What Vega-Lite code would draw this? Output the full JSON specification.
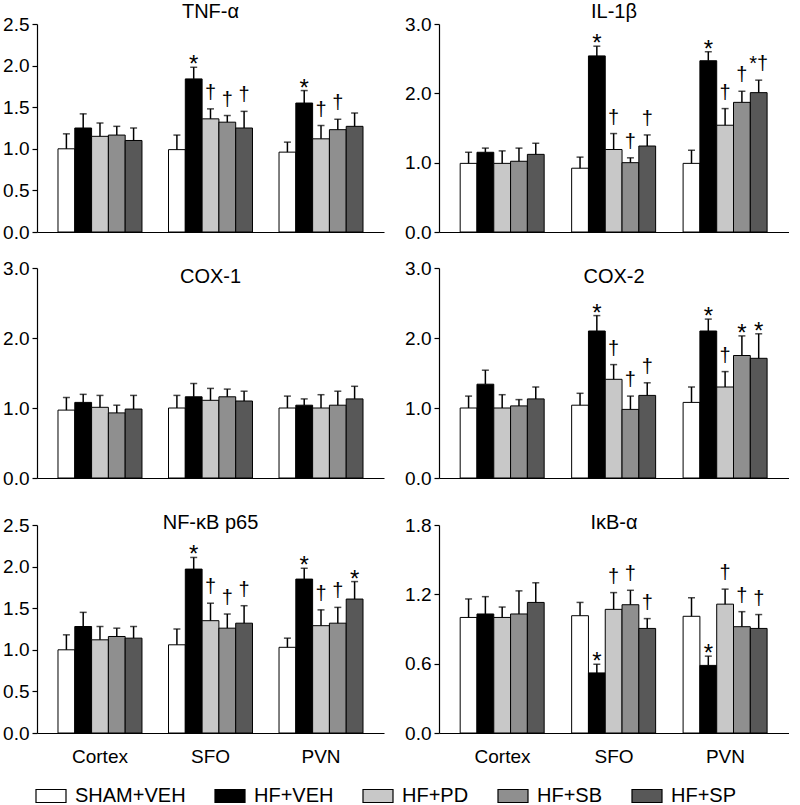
{
  "$schema": "https://vega.github.io/schema/vega-lite/v6.json",
  "background": "white",
  "padding": {"left": 2, "top": 2, "right": 0, "bottom": 0},
  "spacing": 17,
  "datasets": {
    "d": [
      {"p": "TNF", "r": "Cortex", "g": "SHAM+VEH", "m": 1.00, "u": 1.18, "s": ""},
      {"p": "TNF", "r": "Cortex", "g": "HF+VEH", "m": 1.25, "u": 1.42, "s": ""},
      {"p": "TNF", "r": "Cortex", "g": "HF+PD", "m": 1.15, "u": 1.31, "s": ""},
      {"p": "TNF", "r": "Cortex", "g": "HF+SB", "m": 1.165, "u": 1.27, "s": ""},
      {"p": "TNF", "r": "Cortex", "g": "HF+SP", "m": 1.10, "u": 1.25, "s": ""},
      {"p": "TNF", "r": "SFO", "g": "SHAM+VEH", "m": 0.99, "u": 1.165, "s": ""},
      {"p": "TNF", "r": "SFO", "g": "HF+VEH", "m": 1.84, "u": 1.98, "s": "*"},
      {"p": "TNF", "r": "SFO", "g": "HF+PD", "m": 1.36, "u": 1.48, "s": "†"},
      {"p": "TNF", "r": "SFO", "g": "HF+SB", "m": 1.32, "u": 1.40, "s": "†"},
      {"p": "TNF", "r": "SFO", "g": "HF+SP", "m": 1.25, "u": 1.45, "s": "†"},
      {"p": "TNF", "r": "PVN", "g": "SHAM+VEH", "m": 0.96, "u": 1.08, "s": ""},
      {"p": "TNF", "r": "PVN", "g": "HF+VEH", "m": 1.55, "u": 1.70, "s": "*"},
      {"p": "TNF", "r": "PVN", "g": "HF+PD", "m": 1.12, "u": 1.28, "s": "†"},
      {"p": "TNF", "r": "PVN", "g": "HF+SB", "m": 1.23, "u": 1.355, "s": "†"},
      {"p": "TNF", "r": "PVN", "g": "HF+SP", "m": 1.27, "u": 1.43, "s": ""},

      {"p": "IL1B", "r": "Cortex", "g": "SHAM+VEH", "m": 0.99, "u": 1.15, "s": ""},
      {"p": "IL1B", "r": "Cortex", "g": "HF+VEH", "m": 1.15, "u": 1.21, "s": ""},
      {"p": "IL1B", "r": "Cortex", "g": "HF+PD", "m": 0.99, "u": 1.17, "s": ""},
      {"p": "IL1B", "r": "Cortex", "g": "HF+SB", "m": 1.02, "u": 1.21, "s": ""},
      {"p": "IL1B", "r": "Cortex", "g": "HF+SP", "m": 1.12, "u": 1.28, "s": ""},
      {"p": "IL1B", "r": "SFO", "g": "SHAM+VEH", "m": 0.92, "u": 1.08, "s": ""},
      {"p": "IL1B", "r": "SFO", "g": "HF+VEH", "m": 2.54, "u": 2.68, "s": "*"},
      {"p": "IL1B", "r": "SFO", "g": "HF+PD", "m": 1.19, "u": 1.42, "s": "†"},
      {"p": "IL1B", "r": "SFO", "g": "HF+SB", "m": 1.00, "u": 1.07, "s": "†"},
      {"p": "IL1B", "r": "SFO", "g": "HF+SP", "m": 1.24, "u": 1.40, "s": "†"},
      {"p": "IL1B", "r": "PVN", "g": "SHAM+VEH", "m": 0.99, "u": 1.18, "s": ""},
      {"p": "IL1B", "r": "PVN", "g": "HF+VEH", "m": 2.47, "u": 2.60, "s": "*"},
      {"p": "IL1B", "r": "PVN", "g": "HF+PD", "m": 1.54, "u": 1.78, "s": "†"},
      {"p": "IL1B", "r": "PVN", "g": "HF+SB", "m": 1.87, "u": 2.03, "s": "†"},
      {"p": "IL1B", "r": "PVN", "g": "HF+SP", "m": 2.01, "u": 2.19, "s": "*†"},

      {"p": "COX1", "r": "Cortex", "g": "SHAM+VEH", "m": 0.97, "u": 1.15, "s": ""},
      {"p": "COX1", "r": "Cortex", "g": "HF+VEH", "m": 1.08, "u": 1.195, "s": ""},
      {"p": "COX1", "r": "Cortex", "g": "HF+PD", "m": 1.01, "u": 1.18, "s": ""},
      {"p": "COX1", "r": "Cortex", "g": "HF+SB", "m": 0.93, "u": 1.04, "s": ""},
      {"p": "COX1", "r": "Cortex", "g": "HF+SP", "m": 0.985, "u": 1.18, "s": ""},
      {"p": "COX1", "r": "SFO", "g": "SHAM+VEH", "m": 1.00, "u": 1.18, "s": ""},
      {"p": "COX1", "r": "SFO", "g": "HF+VEH", "m": 1.16, "u": 1.35, "s": ""},
      {"p": "COX1", "r": "SFO", "g": "HF+PD", "m": 1.11, "u": 1.28, "s": ""},
      {"p": "COX1", "r": "SFO", "g": "HF+SB", "m": 1.16, "u": 1.27, "s": ""},
      {"p": "COX1", "r": "SFO", "g": "HF+SP", "m": 1.10, "u": 1.24, "s": ""},
      {"p": "COX1", "r": "PVN", "g": "SHAM+VEH", "m": 1.00, "u": 1.17, "s": ""},
      {"p": "COX1", "r": "PVN", "g": "HF+VEH", "m": 1.04, "u": 1.13, "s": ""},
      {"p": "COX1", "r": "PVN", "g": "HF+PD", "m": 1.00, "u": 1.19, "s": ""},
      {"p": "COX1", "r": "PVN", "g": "HF+SB", "m": 1.04, "u": 1.24, "s": ""},
      {"p": "COX1", "r": "PVN", "g": "HF+SP", "m": 1.13, "u": 1.31, "s": ""},

      {"p": "COX2", "r": "Cortex", "g": "SHAM+VEH", "m": 1.00, "u": 1.17, "s": ""},
      {"p": "COX2", "r": "Cortex", "g": "HF+VEH", "m": 1.34, "u": 1.54, "s": ""},
      {"p": "COX2", "r": "Cortex", "g": "HF+PD", "m": 1.00, "u": 1.19, "s": ""},
      {"p": "COX2", "r": "Cortex", "g": "HF+SB", "m": 1.03, "u": 1.12, "s": ""},
      {"p": "COX2", "r": "Cortex", "g": "HF+SP", "m": 1.13, "u": 1.30, "s": ""},
      {"p": "COX2", "r": "SFO", "g": "SHAM+VEH", "m": 1.04, "u": 1.21, "s": ""},
      {"p": "COX2", "r": "SFO", "g": "HF+VEH", "m": 2.10, "u": 2.32, "s": "*"},
      {"p": "COX2", "r": "SFO", "g": "HF+PD", "m": 1.41, "u": 1.62, "s": "†"},
      {"p": "COX2", "r": "SFO", "g": "HF+SB", "m": 0.98, "u": 1.17, "s": "†"},
      {"p": "COX2", "r": "SFO", "g": "HF+SP", "m": 1.18, "u": 1.36, "s": "†"},
      {"p": "COX2", "r": "PVN", "g": "SHAM+VEH", "m": 1.08, "u": 1.30, "s": ""},
      {"p": "COX2", "r": "PVN", "g": "HF+VEH", "m": 2.10, "u": 2.27, "s": "*"},
      {"p": "COX2", "r": "PVN", "g": "HF+PD", "m": 1.30, "u": 1.52, "s": "†"},
      {"p": "COX2", "r": "PVN", "g": "HF+SB", "m": 1.75, "u": 2.03, "s": "*"},
      {"p": "COX2", "r": "PVN", "g": "HF+SP", "m": 1.71, "u": 2.06, "s": "*"},

      {"p": "NFKB", "r": "Cortex", "g": "SHAM+VEH", "m": 1.00, "u": 1.18, "s": ""},
      {"p": "NFKB", "r": "Cortex", "g": "HF+VEH", "m": 1.28, "u": 1.45, "s": ""},
      {"p": "NFKB", "r": "Cortex", "g": "HF+PD", "m": 1.12, "u": 1.28, "s": ""},
      {"p": "NFKB", "r": "Cortex", "g": "HF+SB", "m": 1.16, "u": 1.26, "s": ""},
      {"p": "NFKB", "r": "Cortex", "g": "HF+SP", "m": 1.14, "u": 1.28, "s": ""},
      {"p": "NFKB", "r": "SFO", "g": "SHAM+VEH", "m": 1.06, "u": 1.25, "s": ""},
      {"p": "NFKB", "r": "SFO", "g": "HF+VEH", "m": 1.97, "u": 2.11, "s": "*"},
      {"p": "NFKB", "r": "SFO", "g": "HF+PD", "m": 1.35, "u": 1.56, "s": "†"},
      {"p": "NFKB", "r": "SFO", "g": "HF+SB", "m": 1.26, "u": 1.43, "s": "†"},
      {"p": "NFKB", "r": "SFO", "g": "HF+SP", "m": 1.32, "u": 1.53, "s": "†"},
      {"p": "NFKB", "r": "PVN", "g": "SHAM+VEH", "m": 1.03, "u": 1.14, "s": ""},
      {"p": "NFKB", "r": "PVN", "g": "HF+VEH", "m": 1.85, "u": 1.98, "s": "*"},
      {"p": "NFKB", "r": "PVN", "g": "HF+PD", "m": 1.29, "u": 1.48, "s": "†"},
      {"p": "NFKB", "r": "PVN", "g": "HF+SB", "m": 1.32, "u": 1.51, "s": "†"},
      {"p": "NFKB", "r": "PVN", "g": "HF+SP", "m": 1.61, "u": 1.82, "s": "*"},

      {"p": "IKB", "r": "Cortex", "g": "SHAM+VEH", "m": 1.00, "u": 1.16, "s": ""},
      {"p": "IKB", "r": "Cortex", "g": "HF+VEH", "m": 1.03, "u": 1.18, "s": ""},
      {"p": "IKB", "r": "Cortex", "g": "HF+PD", "m": 1.00, "u": 1.09, "s": ""},
      {"p": "IKB", "r": "Cortex", "g": "HF+SB", "m": 1.03, "u": 1.23, "s": ""},
      {"p": "IKB", "r": "Cortex", "g": "HF+SP", "m": 1.13, "u": 1.30, "s": ""},
      {"p": "IKB", "r": "SFO", "g": "SHAM+VEH", "m": 1.015, "u": 1.13, "s": ""},
      {"p": "IKB", "r": "SFO", "g": "HF+VEH", "m": 0.52, "u": 0.595, "s": "*"},
      {"p": "IKB", "r": "SFO", "g": "HF+PD", "m": 1.07, "u": 1.215, "s": "†"},
      {"p": "IKB", "r": "SFO", "g": "HF+SB", "m": 1.11, "u": 1.235, "s": "†"},
      {"p": "IKB", "r": "SFO", "g": "HF+SP", "m": 0.905, "u": 0.99, "s": "†"},
      {"p": "IKB", "r": "PVN", "g": "SHAM+VEH", "m": 1.01, "u": 1.17, "s": ""},
      {"p": "IKB", "r": "PVN", "g": "HF+VEH", "m": 0.585, "u": 0.665, "s": "*"},
      {"p": "IKB", "r": "PVN", "g": "HF+PD", "m": 1.115, "u": 1.245, "s": "†"},
      {"p": "IKB", "r": "PVN", "g": "HF+SB", "m": 0.92, "u": 1.05, "s": "†"},
      {"p": "IKB", "r": "PVN", "g": "HF+SP", "m": 0.905, "u": 1.025, "s": "†"}
    ]
  },
  "config": {
    "font": "Liberation Sans",
    "view": {"stroke": null},
    "scale": {"nice": false},
    "axis": {"domainColor": "black", "tickColor": "black", "labelColor": "black", "labelFont": "Liberation Sans", "labelFontSize": 19, "grid": false, "domainWidth": 1.2, "tickWidth": 1.2, "labelOverlap": false},
    "axisY": {"tickSize": 5, "labelPadding": 3},
    "axisX": {"ticks": false, "labelAngle": 0, "labelPadding": 14},
    "title": {"font": "Liberation Sans", "fontSize": 20, "fontWeight": "normal", "color": "black", "anchor": "middle", "frame": "group", "baseline": "alphabetic"},
    "legend": {"labelFont": "Liberation Sans", "labelFontSize": 20, "labelColor": "black"}
  },
  "vconcat": [
    {"hconcat": [
      {
        "width": 347, "height": 208,
        "title": {"text": "TNF-α", "offset": -7},
        "data": {"name": "d"},
        "transform": [{"filter": "datum.p === 'TNF'"}],
        "encoding": {
          "x": {"field": "r", "type": "nominal", "sort": ["Cortex", "SFO", "PVN"], "title": null, "scale": {"paddingInner": 0.24, "paddingOuter": 0.19}, "axis": {"labels": false}},
          "xOffset": {"field": "g", "type": "nominal", "sort": ["SHAM+VEH", "HF+VEH", "HF+PD", "HF+SB", "HF+SP"], "scale": {"paddingInner": 0, "paddingOuter": 0}}
        },
        "layer": [
          {"mark": {"type": "bar", "stroke": "black", "strokeWidth": 1}, "encoding": {
            "y": {"field": "m", "type": "quantitative", "title": null, "scale": {"domain": [0, 2.5], "nice": false}, "axis": {"values": [0, 0.5, 1, 1.5, 2, 2.5], "format": ".1f"}},
            "fill": {"field": "g", "type": "nominal", "sort": ["SHAM+VEH", "HF+VEH", "HF+PD", "HF+SB", "HF+SP"], "scale": {"domain": ["SHAM+VEH", "HF+VEH", "HF+PD", "HF+SB", "HF+SP"], "range": ["#ffffff", "#000000", "#c8c8c8", "#8f8f8f", "#585858"]},
              "legend": {"title": null, "orient": "bottom", "offset": 16, "direction": "horizontal", "symbolType": "M-1.5,-0.65H1.5V0.65H-1.5Z", "symbolSize": 400, "symbolStrokeColor": "black", "symbolStrokeWidth": 1.2, "symbolOpacity": 1, "columnPadding": 26, "labelOffset": 13, "padding": 3}}
          }},
          {"mark": {"type": "rule", "strokeWidth": 1.5, "color": "black"}, "encoding": {"y": {"field": "m", "type": "quantitative", "title": null}, "y2": {"field": "u"}}},
          {"mark": {"type": "tick", "color": "black", "thickness": 1.5, "size": 7}, "encoding": {"y": {"field": "u", "type": "quantitative", "title": null}}},
          {"transform": [{"filter": "datum.s === '*'"}], "mark": {"type": "text", "baseline": "alphabetic", "dy": 5, "fontSize": 24, "color": "black"}, "encoding": {"y": {"field": "u", "type": "quantitative", "title": null}, "text": {"field": "s"}}},
          {"transform": [{"filter": "datum.s !== '*' && datum.s !== ''"}], "mark": {"type": "text", "baseline": "alphabetic", "dy": -10, "fontSize": 20, "color": "black"}, "encoding": {"y": {"field": "u", "type": "quantitative", "title": null}, "text": {"field": "s"}}}
        ]
      },
      {
        "width": 350, "height": 208,
        "title": {"text": "IL-1β", "offset": -7},
        "data": {"name": "d"},
        "transform": [{"filter": "datum.p === 'IL1B'"}],
        "encoding": {
          "x": {"field": "r", "type": "nominal", "sort": ["Cortex", "SFO", "PVN"], "title": null, "scale": {"paddingInner": 0.24, "paddingOuter": 0.19}, "axis": {"labels": false}},
          "xOffset": {"field": "g", "type": "nominal", "sort": ["SHAM+VEH", "HF+VEH", "HF+PD", "HF+SB", "HF+SP"], "scale": {"paddingInner": 0, "paddingOuter": 0}}
        },
        "layer": [
          {"mark": {"type": "bar", "stroke": "black", "strokeWidth": 1}, "encoding": {
            "y": {"field": "m", "type": "quantitative", "title": null, "scale": {"domain": [0, 3], "nice": false}, "axis": {"values": [0, 0.5, 1, 1.5, 2, 2.5, 3], "format": ".1f"}},
            "fill": {"field": "g", "type": "nominal", "sort": ["SHAM+VEH", "HF+VEH", "HF+PD", "HF+SB", "HF+SP"]}
          }},
          {"mark": {"type": "rule", "strokeWidth": 1.5, "color": "black"}, "encoding": {"y": {"field": "m", "type": "quantitative", "title": null}, "y2": {"field": "u"}}},
          {"mark": {"type": "tick", "color": "black", "thickness": 1.5, "size": 7}, "encoding": {"y": {"field": "u", "type": "quantitative", "title": null}}},
          {"transform": [{"filter": "datum.s === '*'"}], "mark": {"type": "text", "baseline": "alphabetic", "dy": 5, "fontSize": 24, "color": "black"}, "encoding": {"y": {"field": "u", "type": "quantitative", "title": null}, "text": {"field": "s"}}},
          {"transform": [{"filter": "datum.s !== '*' && datum.s !== ''"}], "mark": {"type": "text", "baseline": "alphabetic", "dy": -10, "fontSize": 20, "color": "black"}, "encoding": {"y": {"field": "u", "type": "quantitative", "title": null}, "text": {"field": "s"}}}
        ]
      }
    ]},
    {"vconcat": [
      {"hconcat": [
        {
          "width": 347, "height": 210,
          "title": {"text": "COX-1", "offset": -28},
          "data": {"name": "d"},
          "transform": [{"filter": "datum.p === 'COX1'"}],
          "encoding": {
            "x": {"field": "r", "type": "nominal", "sort": ["Cortex", "SFO", "PVN"], "title": null, "scale": {"paddingInner": 0.24, "paddingOuter": 0.19}, "axis": {"labels": false}},
            "xOffset": {"field": "g", "type": "nominal", "sort": ["SHAM+VEH", "HF+VEH", "HF+PD", "HF+SB", "HF+SP"], "scale": {"paddingInner": 0, "paddingOuter": 0}}
          },
          "layer": [
            {"mark": {"type": "bar", "stroke": "black", "strokeWidth": 1}, "encoding": {
              "y": {"field": "m", "type": "quantitative", "title": null, "scale": {"domain": [0, 3], "nice": false}, "axis": {"values": [0, 0.5, 1, 1.5, 2, 2.5, 3], "format": ".1f"}},
              "fill": {"field": "g", "type": "nominal", "sort": ["SHAM+VEH", "HF+VEH", "HF+PD", "HF+SB", "HF+SP"]}
            }},
            {"mark": {"type": "rule", "strokeWidth": 1.5, "color": "black"}, "encoding": {"y": {"field": "m", "type": "quantitative", "title": null}, "y2": {"field": "u"}}},
            {"mark": {"type": "tick", "color": "black", "thickness": 1.5, "size": 7}, "encoding": {"y": {"field": "u", "type": "quantitative", "title": null}}}
          ]
        },
        {
          "width": 350, "height": 210,
          "title": {"text": "COX-2", "offset": -28},
          "data": {"name": "d"},
          "transform": [{"filter": "datum.p === 'COX2'"}],
          "encoding": {
            "x": {"field": "r", "type": "nominal", "sort": ["Cortex", "SFO", "PVN"], "title": null, "scale": {"paddingInner": 0.24, "paddingOuter": 0.19}, "axis": {"labels": false}},
            "xOffset": {"field": "g", "type": "nominal", "sort": ["SHAM+VEH", "HF+VEH", "HF+PD", "HF+SB", "HF+SP"], "scale": {"paddingInner": 0, "paddingOuter": 0}}
          },
          "layer": [
            {"mark": {"type": "bar", "stroke": "black", "strokeWidth": 1}, "encoding": {
              "y": {"field": "m", "type": "quantitative", "title": null, "scale": {"domain": [0, 3], "nice": false}, "axis": {"values": [0, 0.5, 1, 1.5, 2, 2.5, 3], "format": ".1f"}},
              "fill": {"field": "g", "type": "nominal", "sort": ["SHAM+VEH", "HF+VEH", "HF+PD", "HF+SB", "HF+SP"]}
            }},
            {"mark": {"type": "rule", "strokeWidth": 1.5, "color": "black"}, "encoding": {"y": {"field": "m", "type": "quantitative", "title": null}, "y2": {"field": "u"}}},
            {"mark": {"type": "tick", "color": "black", "thickness": 1.5, "size": 7}, "encoding": {"y": {"field": "u", "type": "quantitative", "title": null}}},
            {"transform": [{"filter": "datum.s === '*'"}], "mark": {"type": "text", "baseline": "alphabetic", "dy": 5, "fontSize": 24, "color": "black"}, "encoding": {"y": {"field": "u", "type": "quantitative", "title": null}, "text": {"field": "s"}}},
            {"transform": [{"filter": "datum.s !== '*' && datum.s !== ''"}], "mark": {"type": "text", "baseline": "alphabetic", "dy": -10, "fontSize": 20, "color": "black"}, "encoding": {"y": {"field": "u", "type": "quantitative", "title": null}, "text": {"field": "s"}}}
          ]
        }
      ]},
      {"hconcat": [
        {
          "width": 347, "height": 208,
          "title": {"text": "NF-κB p65", "offset": -17},
          "data": {"name": "d"},
          "transform": [{"filter": "datum.p === 'NFKB'"}],
          "encoding": {
            "x": {"field": "r", "type": "nominal", "sort": ["Cortex", "SFO", "PVN"], "title": null, "scale": {"paddingInner": 0.24, "paddingOuter": 0.19}},
            "xOffset": {"field": "g", "type": "nominal", "sort": ["SHAM+VEH", "HF+VEH", "HF+PD", "HF+SB", "HF+SP"], "scale": {"paddingInner": 0, "paddingOuter": 0}}
          },
          "layer": [
            {"mark": {"type": "bar", "stroke": "black", "strokeWidth": 1}, "encoding": {
              "y": {"field": "m", "type": "quantitative", "title": null, "scale": {"domain": [0, 2.5], "nice": false}, "axis": {"values": [0, 0.5, 1, 1.5, 2, 2.5], "format": ".1f"}},
              "fill": {"field": "g", "type": "nominal", "sort": ["SHAM+VEH", "HF+VEH", "HF+PD", "HF+SB", "HF+SP"]}
            }},
            {"mark": {"type": "rule", "strokeWidth": 1.5, "color": "black"}, "encoding": {"y": {"field": "m", "type": "quantitative", "title": null}, "y2": {"field": "u"}}},
            {"mark": {"type": "tick", "color": "black", "thickness": 1.5, "size": 7}, "encoding": {"y": {"field": "u", "type": "quantitative", "title": null}}},
            {"transform": [{"filter": "datum.s === '*'"}], "mark": {"type": "text", "baseline": "alphabetic", "dy": 5, "fontSize": 24, "color": "black"}, "encoding": {"y": {"field": "u", "type": "quantitative", "title": null}, "text": {"field": "s"}}},
            {"transform": [{"filter": "datum.s !== '*' && datum.s !== ''"}], "mark": {"type": "text", "baseline": "alphabetic", "dy": -10, "fontSize": 20, "color": "black"}, "encoding": {"y": {"field": "u", "type": "quantitative", "title": null}, "text": {"field": "s"}}}
          ]
        },
        {
          "width": 350, "height": 208,
          "title": {"text": "IκB-α", "offset": -17},
          "data": {"name": "d"},
          "transform": [{"filter": "datum.p === 'IKB'"}],
          "encoding": {
            "x": {"field": "r", "type": "nominal", "sort": ["Cortex", "SFO", "PVN"], "title": null, "scale": {"paddingInner": 0.24, "paddingOuter": 0.19}},
            "xOffset": {"field": "g", "type": "nominal", "sort": ["SHAM+VEH", "HF+VEH", "HF+PD", "HF+SB", "HF+SP"], "scale": {"paddingInner": 0, "paddingOuter": 0}}
          },
          "layer": [
            {"mark": {"type": "bar", "stroke": "black", "strokeWidth": 1}, "encoding": {
              "y": {"field": "m", "type": "quantitative", "title": null, "scale": {"domain": [0, 1.8], "nice": false}, "axis": {"values": [0, 0.3, 0.6, 0.9, 1.2, 1.5, 1.8], "format": ".1f"}},
              "fill": {"field": "g", "type": "nominal", "sort": ["SHAM+VEH", "HF+VEH", "HF+PD", "HF+SB", "HF+SP"]}
            }},
            {"mark": {"type": "rule", "strokeWidth": 1.5, "color": "black"}, "encoding": {"y": {"field": "m", "type": "quantitative", "title": null}, "y2": {"field": "u"}}},
            {"mark": {"type": "tick", "color": "black", "thickness": 1.5, "size": 7}, "encoding": {"y": {"field": "u", "type": "quantitative", "title": null}}},
            {"transform": [{"filter": "datum.s === '*'"}], "mark": {"type": "text", "baseline": "alphabetic", "dy": 5, "fontSize": 24, "color": "black"}, "encoding": {"y": {"field": "u", "type": "quantitative", "title": null}, "text": {"field": "s"}}},
            {"transform": [{"filter": "datum.s !== '*' && datum.s !== ''"}], "mark": {"type": "text", "baseline": "alphabetic", "dy": -10, "fontSize": 20, "color": "black"}, "encoding": {"y": {"field": "u", "type": "quantitative", "title": null}, "text": {"field": "s"}}}
          ]
        }
      ]}
    ], "spacing": 25}
  ]
}
